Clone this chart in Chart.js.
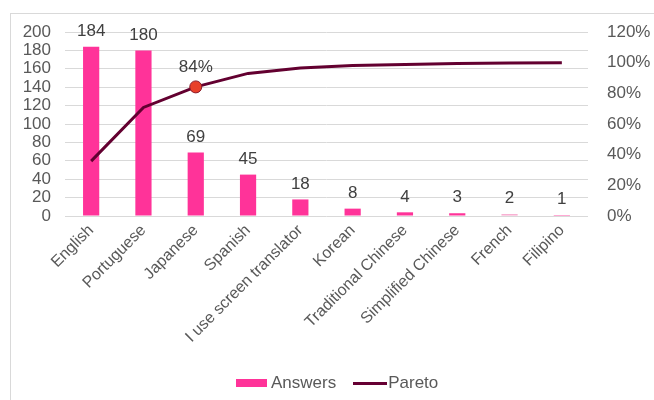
<!DOCTYPE html>
<html lang="en">
  <head>
    <meta charset="UTF-8" />
    <title>Answers Pareto</title>
    <script src="https://cdn.jsdelivr.net/npm/chart.js"></script>
    <style>
      body {
        margin: 0;
        padding: 0;
        background: #fff;
        font-family: "Liberation Sans", Arial, sans-serif;
      }
      .wrap {
        position: relative;
        width: 654px;
        height: 400px;
        overflow: hidden;
      }
      .frame {
        position: absolute;
        left: 10px;
        top: 13px;
        width: 700px;
        height: 450px;
        border: 1px solid #d9d9d9;
      }
      canvas {
        position: absolute;
        left: 0;
        top: 0;
      }
      .legend {
        position: absolute;
        top: 372px;
        left: 236px;
        display: flex;
        align-items: center;
        font-size: 17px;
        line-height: 22px;
        color: #595959;
      }
      .legend .box {
        width: 31px;
        height: 8px;
        background: #ff3399;
        margin-right: 4px;
      }
      .legend .ln {
        width: 34px;
        height: 3px;
        background: #660033;
        margin-left: 17px;
        margin-right: 1px;
      }
    </style>
  </head>
  <body>
    <div class="wrap">
      <div class="frame"></div>
      <canvas id="paretoChart" width="654" height="400"></canvas>
      <div class="legend">
        <span class="box"></span><span>Answers</span>
        <span class="ln"></span><span>Pareto</span>
      </div>
    </div>

    <script>
      const languages = [
        "English",
        "Portuguese",
        "Japanese",
        "Spanish",
        "I use screen translator",
        "Korean",
        "Traditional Chinese",
        "Simplified Chinese",
        "French",
        "Filipino",
      ];
      const answers = [184, 180, 69, 45, 18, 8, 4, 3, 2, 1];
      const pareto = [35.8, 70.8, 84.2, 93.0, 96.5, 98.1, 98.8, 99.4, 99.8, 100];
      const leftTicks = [0, 20, 40, 60, 80, 100, 120, 140, 160, 180, 200];
      const rightTicks = [0, 20, 40, 60, 80, 100, 120];
      const markedPoint = "Japanese";

      const markIdx = languages.indexOf(markedPoint);
      const FONT = "'Liberation Sans', Arial, sans-serif";

      const valueLabels = {
        id: "valueLabels",
        afterDatasetsDraw(chart) {
          const ctx = chart.ctx;
          ctx.save();
          ctx.font = "17px " + FONT;
          ctx.fillStyle = "#404040";
          ctx.textAlign = "center";
          ctx.textBaseline = "bottom";
          chart.getDatasetMeta(0).data.forEach((bar, i) => {
            ctx.fillText(String(answers[i]), bar.x, bar.y - 7);
          });
          const pt = chart.getDatasetMeta(1).data[markIdx];
          ctx.fillText(Math.round(pareto[markIdx]) + "%", pt.x, pt.y - 11);
          ctx.restore();
        },
      };

      const ctx = document.getElementById("paretoChart").getContext("2d");
      new Chart(ctx, {
        data: {
          labels: languages,
          datasets: [
            {
              type: "bar",
              label: "Answers",
              data: answers,
              yAxisID: "y",
              backgroundColor: languages.map((l) =>
                l === "French" ? "#f7a3cb" : "#ff3399"
              ),
              categoryPercentage: 1,
              barPercentage: 0.31,
              order: 2,
            },
            {
              type: "line",
              label: "Pareto",
              data: pareto,
              yAxisID: "y1",
              borderColor: "#630030",
              borderWidth: 3,
              tension: 0,
              pointRadius: languages.map((l, i) => (i === markIdx ? 6 : 0)),
              pointBackgroundColor: "#e8402a",
              pointBorderColor: "#8a1a2a",
              pointBorderWidth: 1,
              order: 1,
            },
          ],
        },
        options: {
          responsive: false,
          animation: false,
          layout: {
            padding: { left: 10, right: 4, top: 32, bottom: 44 },
          },
          plugins: {
            legend: { display: false },
            tooltip: { enabled: false },
          },
          scales: {
            x: {
              grid: { display: false, drawTicks: false },
              border: { display: false },
              ticks: {
                color: "#595959",
                font: { size: 16, family: FONT },
                maxRotation: 45,
                minRotation: 45,
                padding: 5,
                autoSkip: false,
              },
              afterFit(scale) {
                scale.height = 140;
              },
            },
            y: {
              position: "left",
              min: 0,
              max: 200,
              afterBuildTicks(scale) {
                scale.ticks = leftTicks.map((v) => ({ value: v }));
              },
              grid: { color: "#d9d9d9", drawTicks: false },
              border: { display: false },
              ticks: {
                color: "#595959",
                font: { size: 17, family: FONT },
                padding: 14,
                autoSkip: false,
              },
              afterFit(scale) {
                scale.width = 55;
              },
            },
            y1: {
              position: "right",
              min: 0,
              max: 120,
              afterBuildTicks(scale) {
                scale.ticks = rightTicks.map((v) => ({ value: v }));
              },
              grid: { display: false, drawTicks: false },
              border: { display: false },
              ticks: {
                color: "#595959",
                font: { size: 17, family: FONT },
                padding: 19,
                autoSkip: false,
                callback: (v) => v + "%",
              },
              afterFit(scale) {
                scale.width = 62;
              },
            },
          },
        },
        plugins: [valueLabels],
      });
    </script>
  </body>
</html>
